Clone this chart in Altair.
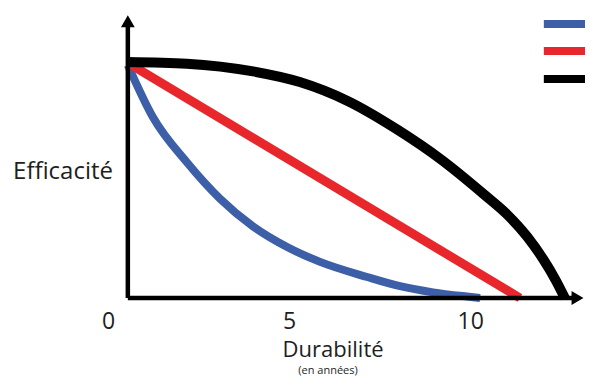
import altair as alt
import pandas as pd

# Curves: x in years, y in efficiency (100 = start)
black_x = [0.53, 2.16, 3.99, 5.28, 6.60, 7.96, 9.20, 10.40, 11.00, 11.56, 12.00, 12.35, 12.60]
black_y = [100.0, 99.3, 96.0, 91.5, 83.5, 71.5, 58.5, 43.5, 35.5, 26.0, 16.5, 7.5, 0.0]
red_x = [0.53, 11.36]
red_y = [99.6, 0.0]
blue_x = [0.53, 1.22, 2.16, 3.08, 3.99, 4.93, 5.84, 7.14, 8.05, 8.96, 9.90, 10.26]
blue_y = [98.7, 76.7, 57.5, 42.0, 30.3, 21.6, 15.3, 8.9, 5.0, 2.4, 0.6, 0.0]

tick_values = [0, 5, 10]
tick_labels = ["0", "5", "10"]
legend_colors = ["#3d5fa8", "#e8272c", "#000000"]
legend_y = [116.1, 104.7, 92.8]

X_DOMAIN = [-2.78, 13.157]
Y_DOMAIN = [-33.9, 122.88]
W, H = 577, 370

xs = alt.Scale(domain=X_DOMAIN, nice=False, zero=False)
ys = alt.Scale(domain=Y_DOMAIN, nice=False, zero=False)
FONT = "Open Sans"
TXT = "#1e1e1e"


def enc():
    return dict(x=alt.X("x:Q", scale=xs, axis=None), y=alt.Y("y:Q", scale=ys, axis=None))


def line_layer(xv, yv, color, width):
    df = pd.DataFrame({"x": xv, "y": yv, "o": range(len(xv))})
    return alt.Chart(df).mark_line(
        color=color, strokeWidth=width, interpolate="monotone", clip=True
    ).encode(order="o:O", **enc())


# axes
axes_df = pd.DataFrame({
    "x": [0.53, 0.53], "y": [0.0, 0.0],
    "x2": [12.95, 0.53], "y2": [0.0, 117.0],
})
axes = alt.Chart(axes_df).mark_rule(color="#000", strokeWidth=4.5).encode(
    x2="x2:Q", y2="y2:Q", **enc()
)
arrow_up = alt.Chart(pd.DataFrame({"x": [0.53], "y": [117.3]})).mark_point(
    shape="triangle-up", filled=True, color="#000", size=190, opacity=1
).encode(**enc())
arrow_right = alt.Chart(pd.DataFrame({"x": [12.95], "y": [0.0]})).mark_point(
    shape="triangle-right", filled=True, color="#000", size=190, opacity=1
).encode(**enc())

# legend swatches (labels cut off in the original)
leg_df = pd.DataFrame({"c": legend_colors, "y": legend_y, "x": [12.02] * 3, "x2": [13.157] * 3})
legend = alt.Chart(leg_df).mark_rule(strokeWidth=8).encode(
    x2="x2:Q", color=alt.Color("c:N", scale=None, legend=None), **enc()
)

ticks = alt.Chart(pd.DataFrame({"x": tick_values, "t": tick_labels, "y": [-10.2] * 3})).mark_text(
    font=FONT, fontSize=23, color=TXT, baseline="middle", align="center"
).encode(text="t:N", **enc())

labels_df = pd.DataFrame({
    "x": [-1.26, 6.2, 6.06], "y": [53.4, -22.1, -31.1],
    "t": ["Efficacité", "Durabilité", "(en années)"],
    "s": [24, 22, 11],
})
labels = alt.Chart(labels_df).mark_text(
    font=FONT, color=TXT, baseline="middle", align="center"
).encode(text="t:N", size=alt.Size("s:Q", scale=None, legend=None), **enc())

chart = alt.layer(
    line_layer(blue_x, blue_y, "#3d5fa8", 8),
    line_layer(red_x, red_y, "#e8272c", 9),
    line_layer(black_x, black_y, "#000000", 10),
    axes, arrow_up, arrow_right, legend, ticks, labels,
).properties(
    width=W, height=H, padding=0, autosize=alt.AutoSizeParams(type="none"),
    background="white",
).configure_view(stroke=None)

chart.save("out.html", embed_options={"renderer": "svg", "actions": False})
